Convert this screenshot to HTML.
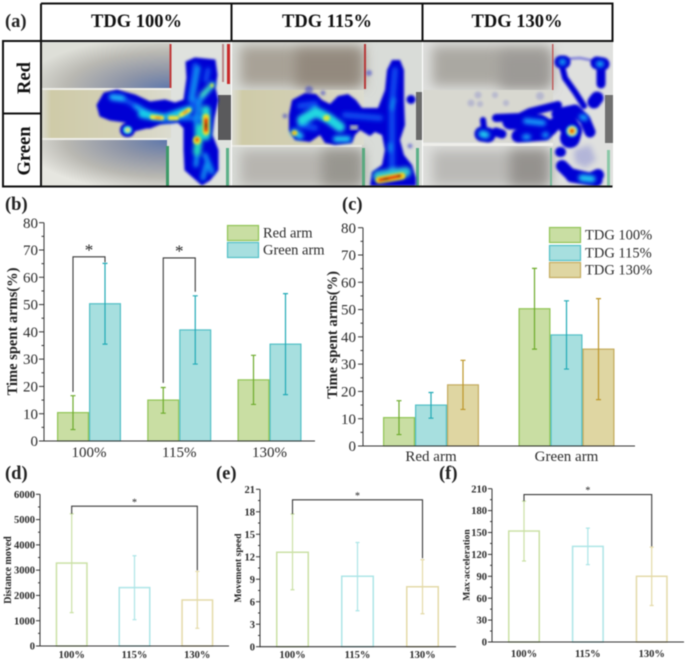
<!DOCTYPE html>
<html lang="en">
<head>
<meta charset="utf-8">
<title>TDG behaviour figure</title>
<style>
html,body{margin:0;padding:0;background:#fff;width:685px;height:661px;overflow:hidden}
svg{display:block;filter:blur(0.45px)}
text{font-family:"Liberation Serif",serif}
.hl{fill:none;stroke-linecap:round;stroke-linejoin:round}
</style>
</head>
<body>
<svg id="fig" xmlns="http://www.w3.org/2000/svg" width="685" height="661" viewBox="0 0 685 661">
<defs>
<filter id="b1" x="-20%" y="-20%" width="140%" height="140%"><feGaussianBlur stdDeviation="1.2"/></filter>
<filter id="b2" x="-20%" y="-20%" width="140%" height="140%"><feGaussianBlur stdDeviation="2"/></filter>
<filter id="b3" x="-20%" y="-20%" width="140%" height="140%"><feGaussianBlur stdDeviation="3"/></filter>
<filter id="b6" x="-30%" y="-30%" width="160%" height="160%"><feGaussianBlur stdDeviation="6"/></filter>
<clipPath id="c1"><rect x="41" y="42" width="190" height="144"/></clipPath>
<clipPath id="c2"><rect x="232" y="42" width="190" height="144"/></clipPath>
<clipPath id="c3"><rect x="423" y="42" width="190" height="144"/></clipPath>
<radialGradient id="g1" cx="1" cy="1" r="1.15"><stop offset="0" stop-color="#5f78ac"/><stop offset=".35" stop-color="#8f96a8"/><stop offset=".7" stop-color="#b9b8b2"/><stop offset="1" stop-color="#dedfd8"/></radialGradient>
<radialGradient id="g2" cx="1" cy="0" r="1.15"><stop offset="0" stop-color="#5f78ac"/><stop offset=".35" stop-color="#8f96a8"/><stop offset=".7" stop-color="#b9b8b2"/><stop offset="1" stop-color="#e6e6e0"/></radialGradient>
<linearGradient id="cor" x1="0" y1="0" x2="1" y2="0"><stop offset="0" stop-color="#dcdcd2"/><stop offset=".08" stop-color="#cfcba8"/><stop offset=".6" stop-color="#d3d0b6"/><stop offset="1" stop-color="#dcdcd0"/></linearGradient>
</defs>

<!-- photo 100% -->
<g clip-path="url(#c1)">
<rect x="41" y="42" width="190" height="144" fill="#dfe2de"/>
<rect x="41" y="43" width="129" height="46" fill="url(#g1)"/>
<rect x="41" y="140" width="126" height="46" fill="url(#g2)"/>
<rect x="41" y="90" width="130" height="48" fill="url(#cor)"/>
<rect x="41" y="88" width="130" height="2" fill="#eeeee8"/>
<rect x="41" y="138" width="126" height="2" fill="#eeeee8"/>
<rect x="169.500" y="44" width="2" height="44" fill="#c03a3a"/>
<rect x="227" y="44" width="3" height="40" fill="#c92a2a"/>
<rect x="222" y="44" width="2" height="38" fill="#b88"/>
<rect x="166" y="146" width="3" height="40" fill="#3d9a68"/>
<rect x="226" y="148" width="3" height="38" fill="#5cb088"/>
<rect x="218" y="95" width="13" height="45" fill="#5a5a5c"/>
<g filter="url(#b1)">
<path fill="#0606d4" stroke="#0606d4" stroke-width="1" stroke-linejoin="round" d="M97,105 L104,93 L117,90 L135,95 L150,102 L165,100 L175,103 L184,100 L187,78 L186,62 L195,58 L205,59 L215,60 L217,75 L215,88 L218,100 L214,118 L212,135 L218,150 L218,170 L210,180 L202,185 L194,178 L185,170 L184,150 L184,128 L178,122 L160,124 L150,128 L140,128 L135,128 L125,122 L110,120 L100,116 Z"/>
<path class="hl" stroke="#0606d4" stroke-width="14" d="M127,130 L128,130"/>
<path class="hl" stroke="#0606d4" stroke-width="8" d="M132,128 L148,124"/>
</g>
<g filter="url(#b2)" class="hl">
<path d="M112,98 L125,100 L140,108 M195,65 L190,100 M208,70 L206,80 M196,100 L190,110 M188,115 L170,120" stroke="#0a50f0" stroke-width="5"/>
<path d="M112,97 L122,98" stroke="#20b8f8" stroke-width="6"/>
<path d="M136,107 L148,113" stroke="#18a8f8" stroke-width="5"/>
<path d="M142,114 L165,118 L188,110" stroke="#18d0e8" stroke-width="8"/>
<path d="M160,119 L204,118" stroke="#1080f0" stroke-width="4"/>
<path d="M198,68 L192,100 M213,84 L200,100 L196,118 L198,145 L196,165 M205,155 L212,172 M206,165 L203,178" stroke="#1090f0" stroke-width="5"/>
<path d="M206,110 L206,136" stroke="#20d8d0" stroke-width="9"/>
<path d="M200,128 L197,152" stroke="#20d8c0" stroke-width="8"/>
<path d="M212,85 L202,95" stroke="#40e0c0" stroke-width="5"/>
</g>
<g filter="url(#b1)" class="hl">
<path d="M152,117 L162,118 M170,118 L177,118 M181,115 L189,110" stroke="#f0e838" stroke-width="4.500"/>
<path d="M156,118 L160,118 M184,113 L187,111" stroke="#f09020" stroke-width="2.500"/>
<path d="M206,117 L206,132" stroke="#f0d820" stroke-width="6.500"/>
<path d="M206,120 L206,130" stroke="#e02010" stroke-width="4"/>
<path d="M206,124 L206,127" stroke="#700808" stroke-width="2.500"/>
<path d="M197,140 L197,140.500" stroke="#e8e030" stroke-width="8"/>
<path d="M197,139.500 L197,140" stroke="#e03010" stroke-width="3.500"/>
<path d="M127,130 L128,130" stroke="#38e8e0" stroke-width="8"/>
<path d="M127.500,130 L128,130" stroke="#f0e030" stroke-width="3.500"/>
<path d="M212,85 L212,86" stroke="#e0e840" stroke-width="3"/>
</g>
</g>

<!-- photo 115% -->
<g clip-path="url(#c2)">
<rect x="232" y="42" width="190" height="144" fill="#d9dcd8"/>
<rect x="240" y="46" width="124" height="40" fill="#a8a297" filter="url(#b6)"/>
<rect x="296" y="50" width="64" height="36" fill="#93897e" filter="url(#b6)"/>
<rect x="240" y="150" width="122" height="36" fill="#b7b5b0" filter="url(#b6)"/>
<rect x="322" y="150" width="40" height="36" fill="#989690" filter="url(#b6)"/>
<rect x="232" y="90" width="132" height="55" fill="url(#cor)"/>
<rect x="232" y="145" width="130" height="2" fill="#e8e8e2"/>
<rect x="364" y="44" width="2" height="45" fill="#b83a3a"/>
<rect x="362" y="148" width="3" height="38" fill="#5aaa80"/>
<rect x="416" y="92" width="7" height="48" fill="#6a6a6a"/>
<rect x="416" y="148" width="3" height="38" fill="#5cb088"/>
<g filter="url(#b1)" opacity=".5" fill="#2a30c8">
<circle cx="369" cy="73" r="3"/><circle cx="323" cy="93" r="2.500"/><circle cx="285" cy="116" r="2.500"/><circle cx="309" cy="90" r="4"/><circle cx="410" cy="146" r="2.500"/>
</g>
<g filter="url(#b1)">
<path fill="#0606d4" d="M289,115 L292,100 L305,93 L316,94 L322,100 L330,104 L338,96 L348,94 L356,100 L362,108 L378,108 L385,90 L387,70 L392,60 L400,60 L404,70 L404,100 L405,125 L400,140 L404,155 L412,165 L416,178 L416,186 L370,186 L372,172 L382,165 L385,150 L382,135 L375,132 L370,136 L360,130 L355,135 L352,143 L335,145 L325,143 L320,135 L310,142 L295,140 L289,130 Z"/>
<circle cx="411" cy="99.500" r="4.500" fill="#0606d4"/>
</g>
<g filter="url(#b2)" class="hl">
<path d="M300,106 L315,104 M300,125 L315,128 M345,115 L380,118 M395,70 L392,105 L392,170" stroke="#0a4cf0" stroke-width="6"/>
<path d="M302,120 L316,112 L328,118 L340,127" stroke="#20d8e0" stroke-width="10"/>
<path d="M394,100 L392,108 M390,145 L390,150" stroke="#1890f0" stroke-width="4"/>
<path d="M336,139 L348,139" stroke="#20d0f0" stroke-width="6"/>
<path d="M294,132 L300,136" stroke="#20c0f0" stroke-width="7"/>
<path d="M378,176 L406,172" stroke="#30c8d0" stroke-width="10"/>
</g>
<g filter="url(#b1)" class="hl">
<path d="M326,118 L327,118" stroke="#d8e840" stroke-width="6"/>
<path d="M294,133 L295,133" stroke="#f0e020" stroke-width="5"/>
<path d="M294,133 L294.500,133" stroke="#f06010" stroke-width="2"/>
<path d="M379,180 L402,176" stroke="#f0d820" stroke-width="7"/>
<path d="M380,180 L400,176" stroke="#e02810" stroke-width="3.500"/>
<path d="M384,179 L388,179 M398,176 L400,176" stroke="#500808" stroke-width="1.800"/>
</g>
<rect x="350" y="125" width="8" height="5" fill="#a0a8b8" filter="url(#b1)"/>
</g>

<!-- photo 130% -->
<g clip-path="url(#c3)">
<rect x="423" y="42" width="190" height="144" fill="#dfe0de"/>
<rect x="432" y="46" width="118" height="40" fill="#aaa8a2" filter="url(#b6)"/>
<rect x="500" y="52" width="50" height="36" fill="#9c9a96" filter="url(#b6)"/>
<rect x="432" y="150" width="118" height="36" fill="#bab9b6" filter="url(#b6)"/>
<rect x="510" y="150" width="38" height="36" fill="#94928e" filter="url(#b6)"/>
<rect x="423" y="90" width="130" height="52" fill="#d8d8d0"/>
<rect x="423" y="143" width="130" height="3" fill="#eeeeea"/>
<rect x="552" y="44" width="1.500" height="46" fill="#c06060"/>
<rect x="550" y="148" width="2" height="38" fill="#7ab89a"/>
<rect x="605" y="95" width="8" height="48" fill="#707070"/>
<rect x="607" y="150" width="3" height="36" fill="#8ac8a8"/>
<g opacity=".2" fill="#3038c8" filter="url(#b1)">
<circle cx="471" cy="103" r="3.500"/><circle cx="480" cy="104" r="3"/><circle cx="478" cy="95" r="3.500"/><circle cx="495" cy="95" r="3"/><circle cx="506" cy="103" r="3"/><circle cx="540" cy="96" r="4"/>
</g>
<path d="M574,150 L590,145 L596,160 L585,168 L575,162 Z" fill="#3038c8" opacity=".25" filter="url(#b3)"/>
<g filter="url(#b1)">
<g class="hl" stroke="#0606d4">
<path d="M562,66 L565,78 L575,92 L584,106" stroke-width="6"/>
<path d="M564,59 L580,58 L595,61" stroke-width="2" opacity=".55"/>
<path d="M561,62 L564,62" stroke-width="13"/>
<path d="M597,63 L603,64" stroke-width="13"/>
<path d="M601,70 L601,84" stroke-width="9"/>
<path d="M594,102 L597,98" stroke-width="13"/>
<path d="M482,134 L488,135" stroke-width="15"/>
<path d="M483,120 L484,128" stroke-width="6"/>
<path d="M496,132 L502,134" stroke-width="9"/>
<path d="M496,118 L520,117 L530,112 L558,105" stroke-width="8"/>
<path d="M510,122 L540,122 L550,128" stroke-width="15"/>
<path d="M518,136 L545,134 L555,124" stroke-width="13"/>
<path d="M557,114 L575,110 L585,120 L590,132" stroke-width="11"/>
<path d="M566,122 L572,131 L570,138" stroke-width="20"/>
<path d="M560,152 L561,152" stroke-width="10"/>
<path d="M562,166 L570,174 L590,179 L598,175" stroke-width="12"/>
<path d="M572,176 L596,180" stroke-width="13"/>
</g>
</g>
<g filter="url(#b2)" class="hl">
<path d="M562,62 L563,62 M599,64 L601,64" stroke="#18b0f8" stroke-width="6"/>
<path d="M482,134 L486,135" stroke="#20d0f0" stroke-width="7"/>
<path d="M526,121 L543,123 M525,137 L528,137 M545,135 L546,135" stroke="#1898f8" stroke-width="6"/>
<path d="M582,117 L585,118" stroke="#18a0f8" stroke-width="6"/>
<path d="M582,178 L592,179" stroke="#20c8f0" stroke-width="7"/>
</g>
<g filter="url(#b1)">
<circle cx="572" cy="131" r="6" fill="#20c8d8"/>
<circle cx="572" cy="131" r="4.200" fill="#f0e020"/>
<circle cx="572" cy="131" r="2.200" fill="#e02010"/>
</g>
</g>

<!-- table grid -->
<g fill="none" stroke="#111" stroke-width="2">
<path d="M41,3.500 H612.500 V41 H3 V186.500 H612.500"/>
<path d="M41,3.500 V186"/>
<path d="M231.500,3.500 V41"/>
<path d="M422.500,3.500 V41"/>
<path d="M3,113.500 H41"/>
</g>
<text x="136.500" y="27" text-anchor="middle" font-size="18.500" font-weight="700" fill="#111">TDG 100%</text>
<text x="327" y="27" text-anchor="middle" font-size="18.500" font-weight="700" fill="#111">TDG 115%</text>
<text x="517" y="27" text-anchor="middle" font-size="18.500" font-weight="700" fill="#111">TDG 130%</text>
<text transform="translate(30,78) rotate(-90)" text-anchor="middle" font-size="18.500" font-weight="700" fill="#111">Red</text>
<text transform="translate(30,151) rotate(-90)" text-anchor="middle" font-size="18.500" font-weight="700" fill="#111">Green</text>

<text x="5" y="27" font-size="18.500" font-weight="700" fill="#222">(a)</text>
<text x="5" y="210" font-size="18.500" font-weight="700" fill="#222">(b)</text>
<text x="342" y="210" font-size="18.500" font-weight="700" fill="#222">(c)</text>
<text x="5" y="479" font-size="18.500" font-weight="700" fill="#222">(d)</text>
<text x="216" y="479" font-size="18.500" font-weight="700" fill="#222">(e)</text>
<text x="439" y="479" font-size="18.500" font-weight="700" fill="#222">(f)</text>

<g id="charts"></g>
</svg>

<script>
// Panel (b)
const bCategories = ['100%', '115%', '130%'];
const bRed = [10.4, 15, 22.4];
const bRedUpper = [16.6, 19.6, 31.4];
const bRedLower = [4.2, 10.2, 13.4];
const bGreen = [50.3, 40.7, 35.5];
const bGreenUpper = [65.1, 53.2, 54];
const bGreenLower = [35.5, 28.2, 17];
const bTicks = [0, 10, 20, 30, 40, 50, 60, 70, 80];
// Panel (c)
const cCategories = ['Red arm', 'Green arm'];
const c100 = [10.4, 50.3];
const c100Upper = [16.6, 65.1];
const c100Lower = [4.2, 35.5];
const c115 = [15, 40.7];
const c115Upper = [19.6, 53.2];
const c115Lower = [10.2, 28.2];
const c130 = [22.4, 35.5];
const c130Upper = [31.4, 54];
const c130Lower = [13.4, 17];
const cTicks = [0, 10, 20, 30, 40, 50, 60, 70, 80];
// Panel (d)
const dCategories = ['100%', '115%', '130%'];
const dValues = [3280, 2310, 1820];
const dUpper = [5230, 3570, 2950];
const dLower = [1320, 1040, 700];
const dTicks = [0, 1000, 2000, 3000, 4000, 5000, 6000];
// Panel (e)
const eCategories = ['100%', '115%', '130%'];
const eValues = [12.6, 9.4, 8.0];
const eUpper = [17.7, 13.9, 11.6];
const eLower = [7.6, 4.8, 4.4];
const eTicks = [0, 3, 6, 9, 12, 15, 18, 21];
// Panel (f)
const fCategories = ['100%', '115%', '130%'];
const fValues = [152, 131, 90];
const fUpper = [193, 156, 130];
const fLower = [111, 106, 50];
const fTicks = [0, 30, 60, 90, 120, 150, 180, 210];

const NS = 'http://www.w3.org/2000/svg';
const root = document.getElementById('charts');
function make(tag, attrs, parent) {
  const el = document.createElementNS(NS, tag);
  for (const k in attrs) el.setAttribute(k, attrs[k]);
  
  parent.appendChild(el);
  return el;
}
function linearY(y0, yMax, maxVal) { return v => y0 - (v / maxVal) * (y0 - yMax); }

function drawAxes(g, p) {
  const y = p.y;
  let el = make('line', {x1: p.x0, x2: p.x0, y1: p.y0 + 0.5, y2: y(p.ticks[p.ticks.length - 1]), stroke: '#333', 'stroke-width': 1}, g);
  
  el = make('line', {x1: p.x0, x2: p.xEnd, y1: p.y0, y2: p.y0, stroke: '#333', 'stroke-width': 1.1}, g);
  
  p.ticks.forEach((t, i) => {
    const ty = y(t);
    el = make('line', {x1: p.x0 - p.major, x2: p.x0, y1: ty, y2: ty, stroke: '#333', 'stroke-width': 1}, g);
    
    if (i < p.ticks.length - 1) {
      const my = y((t + p.ticks[i + 1]) / 2);
      el = make('line', {x1: p.x0 - p.major / 2, x2: p.x0, y1: my, y2: my, stroke: '#333', 'stroke-width': 1}, g);
      
    }
    el = make('text', {x: p.labelX, y: ty + p.tickFont * 0.34, 'text-anchor': 'end', 'font-size': p.tickFont, 'font-weight': p.tickWeight, fill: '#2b2b2b'}, g);
    
    el.textContent = t;
  });
  p.categories.forEach((c, i) => {
    el = make('text', {x: p.centers(i), y: p.catY, 'text-anchor': 'middle', 'font-size': p.tickFont, 'font-weight': p.tickWeight, fill: '#2b2b2b'}, g);
    
    el.textContent = c;
  });
  el = make('text', {transform: 'translate(' + p.titleX + ',' + p.titleY + ') rotate(-90)', 'text-anchor': 'middle', 'font-size': p.titleFont, 'font-weight': 700, fill: '#222'}, g);
  
  el.textContent = p.title;
}
function drawBar(g, p, cx, w, v, up, lo, s, name) {
  const y = p.y;
  const lw = p.barStroke;
  let el = make('rect', {x: cx - w / 2 + lw / 2, y: y(v), width: w - lw, height: p.y0 - y(v), fill: s.fill, stroke: s.stroke, 'stroke-width': lw}, g);
  
  el = make('path', {d: 'M' + cx + ',' + y(lo) + 'V' + y(up) + 'M' + (cx - p.cap) + ',' + y(up) + 'H' + (cx + p.cap) + 'M' + (cx - p.cap) + ',' + y(lo) + 'H' + (cx + p.cap), fill: 'none', stroke: s.err, 'stroke-width': p.errStroke}, g);
  
}
function drawBracket(g, p, xa, xb, va, vTop, vb, starSize) {
  const y = p.y;
  let el = make('path', {d: 'M' + xa + ',' + y(va) + 'V' + y(vTop) + 'H' + xb + 'V' + y(vb), fill: 'none', stroke: '#3a3a3a', 'stroke-width': 1.1}, g);
  
  el = make('text', {x: (xa + xb) / 2, y: y(vTop) - starSize * 0.08, 'text-anchor': 'middle', 'font-size': starSize, fill: '#222'}, g);
  
  el.textContent = '*';
}
function drawLegend(g, id, x, ys, labels, styles) {
  labels.forEach((label, i) => {
    let el = make('rect', {x: x + 0.5, y: ys[i] + 0.5, width: 31, height: 15, fill: styles[i].fill, stroke: styles[i].stroke, 'stroke-width': 1.2}, g);
    
    el = make('text', {x: x + 36, y: ys[i] + 12.5, 'font-size': 14.5, fill: '#2b2b2b'}, g);
    
    el.textContent = label;
  });
}

const GREEN = {fill: '#c9dea3', stroke: '#90c454', err: '#6dab2c'};
const TEAL = {fill: '#a7dfdf', stroke: '#52bfc6', err: '#22aab6'};
const TAN = {fill: '#dfd6a2', stroke: '#c4ab5e', err: '#bd9629'};
const PALE_GREEN = {fill: 'none', stroke: '#cbe1a6', err: '#cbe1a6'};
const PALE_TEAL = {fill: 'none', stroke: '#ade5e7', err: '#ade5e7'};
const PALE_TAN = {fill: 'none', stroke: '#e4daa8', err: '#e4daa8'};

function panelB() {
  const g = make('g', {}, root);
  
  const p = {id: 'chart-b', x0: 44, xEnd: 315, y0: 441, y: linearY(441, 222.7, 80), ticks: bTicks, categories: bCategories,
    centers: i => 89 + i * 90.25, major: 5, labelX: 38, tickFont: 15, tickWeight: 400, catY: 457,
    title: 'Time spent arms(%)', titleFont: 14.5, titleX: 17, titleY: 331.5, barStroke: 1.2, errStroke: 1.2, cap: 2.5};
  bCategories.forEach((c, i) => {
    drawBar(g, p, p.centers(i) - 16, 32, bRed[i], bRedUpper[i], bRedLower[i], GREEN, 'bar-red-arm-' + c);
    drawBar(g, p, p.centers(i) + 16, 32, bGreen[i], bGreenUpper[i], bGreenLower[i], TEAL, 'bar-green-arm-' + c);
  });
  drawAxes(g, p);
  drawBracket(g, p, p.centers(0) - 16, p.centers(0) + 16, bRedUpper[0] + 1.4, 67.5, bGreenUpper[0] + 0.4, 17);
  drawBracket(g, p, p.centers(1) - 16, p.centers(1) + 16, bRedUpper[1] + 1.7, 67.1, bGreenUpper[1] + 1.5, 17);
  drawLegend(g, 'chart-b', 227, [225, 242], ['Red arm', 'Green arm'], [GREEN, TEAL]);
}
function panelC() {
  const g = make('g', {}, root);
  
  const p = {id: 'chart-c', x0: 363, xEnd: 635, y0: 446, y: linearY(446, 227.7, 80), ticks: cTicks, categories: cCategories,
    centers: i => 431 + i * 135.5, major: 5, labelX: 356, tickFont: 15, tickWeight: 400, catY: 461,
    title: 'Time spent arms(%)', titleFont: 14.5, titleX: 337, titleY: 335, barStroke: 1.2, errStroke: 1.2, cap: 2.5};
  cCategories.forEach((c, i) => {
    const cx = p.centers(i);
    drawBar(g, p, cx - 32, 32, c100[i], c100Upper[i], c100Lower[i], GREEN, 'bar-tdg-100-' + c);
    drawBar(g, p, cx, 32, c115[i], c115Upper[i], c115Lower[i], TEAL, 'bar-tdg-115-' + c);
    drawBar(g, p, cx + 32, 32, c130[i], c130Upper[i], c130Lower[i], TAN, 'bar-tdg-130-' + c);
  });
  drawAxes(g, p);
  drawLegend(g, 'chart-c', 549, [227, 245, 262], ['TDG 100%', 'TDG 115%', 'TDG 130%'], [GREEN, TEAL, TAN]);
}
function smallPanel(cfg) {
  const g = make('g', {}, root);
  
  const p = Object.assign({major: 4, tickFont: 10.5, tickWeight: 700, barStroke: 1.5, errStroke: 1.2, cap: 2}, cfg);
  const styles = [PALE_GREEN, PALE_TEAL, PALE_TAN];
  p.categories.forEach((c, i) => {
    drawBar(g, p, p.centers(i), p.barWidth, p.values[i], p.upper[i], p.lower[i], styles[i], p.id + '-bar-' + c);
  });
  drawAxes(g, p);
  drawBracket(g, p, p.centers(0), p.centers(2), p.upper[0], p.bracketTop, p.upper[2] + p.bracketGap, 10);
}
panelB();
panelC();
smallPanel({id: 'chart-d', x0: 40, xEnd: 229, y0: 646, y: linearY(646, 494.3, 6000), ticks: dTicks, categories: dCategories,
  values: dValues, upper: dUpper, lower: dLower, centers: i => 71.7 + i * 62.8, barWidth: 32, labelX: 35, catY: 658,
  title: 'Distance moved', titleFont: 10, titleX: 11, titleY: 570, bracketTop: 5530, bracketGap: 40});
smallPanel({id: 'chart-e', x0: 260, xEnd: 456, y0: 646.7, y: linearY(646.7, 489.3, 21), ticks: eTicks, categories: eCategories,
  values: eValues, upper: eUpper, lower: eLower, centers: i => 292.5 + i * 65, barWidth: 33, labelX: 255, catY: 658,
  title: 'Movement speed', titleFont: 9.6, titleX: 241, titleY: 568, bracketTop: 19.6, bracketGap: 0.2});
smallPanel({id: 'chart-f', x0: 492, xEnd: 684, y0: 642, y: linearY(642, 488.7, 210), ticks: fTicks, categories: fCategories,
  values: fValues, upper: fUpper, lower: fLower, centers: i => 524 + i * 63.85, barWidth: 32, labelX: 487, catY: 657,
  title: 'Max·acceleration', titleFont: 9.6, titleX: 469.5, titleY: 565, bracketTop: 202, bracketGap: 1});
</script>
</body>
</html>
